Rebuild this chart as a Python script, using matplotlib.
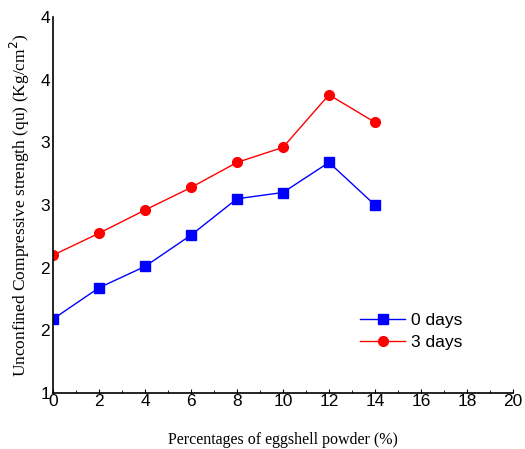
import matplotlib
matplotlib.use("Agg")
import matplotlib.pyplot as plt
from matplotlib.ticker import FuncFormatter, MultipleLocator
import numpy as np

# eggshell powder content (%)
pct = [0, 2, 4, 6, 8, 10, 12, 14]
# compressive strength
qu_0days = [1.59, 1.84, 2.01, 2.26, 2.55, 2.60, 2.84, 2.50]
qu_3days = [2.10, 2.275, 2.46, 2.64, 2.84, 2.96, 3.38, 3.16]

fig = plt.figure(figsize=(5.25, 4.49), dpi=100)
ax = fig.add_axes([0.101, 0.1247, 0.876, 0.8373])

ax.plot(pct, qu_0days, color='blue', marker='s', markersize=6.5, linewidth=1, label='0 days')
ax.plot(pct, qu_3days, color='red', marker='o', markersize=7, linewidth=1, label='3 days')

ax.set_xlim(0, 20)
ax.set_ylim(1, 4)
ax.xaxis.set_major_locator(MultipleLocator(2))
ax.xaxis.set_minor_locator(MultipleLocator(1))
ax.yaxis.set_major_locator(MultipleLocator(0.5))
# tick labels are rounded half up in the original
ax.yaxis.set_major_formatter(FuncFormatter(lambda v, p: str(int(np.floor(v + 0.5)))))

for s in ['top', 'right']:
    ax.spines[s].set_visible(False)
ax.spines['left'].set_linewidth(1.2)
ax.spines['bottom'].set_linewidth(1.2)
ax.tick_params(axis='both', which='both', direction='in', labelsize=12.5, pad=1)
ax.tick_params(axis='y', length=0, pad=2)
ax.tick_params(axis='x', which='major', length=3)
ax.tick_params(axis='x', which='minor', length=2)
for t in ax.get_xticklabels() + ax.get_yticklabels():
    t.set_fontfamily('Liberation Sans')

ax.set_xlabel('Percentages of eggshell powder (%)', fontfamily='Liberation Serif',
              fontsize=11.5, labelpad=16)
ax.set_ylabel('Unconfined Compressive strength (qu) (Kg/cm$^2$)', fontfamily='Liberation Serif',
              fontsize=12.5, labelpad=6)

ax.legend(loc='lower left', bbox_to_anchor=(0.634, 0.072), frameon=False,
          prop={'family': 'Liberation Sans', 'size': 12.5}, handlelength=2.6,
          labelspacing=0.4, handletextpad=0.3)

fig.savefig('out.png', dpi=100)
